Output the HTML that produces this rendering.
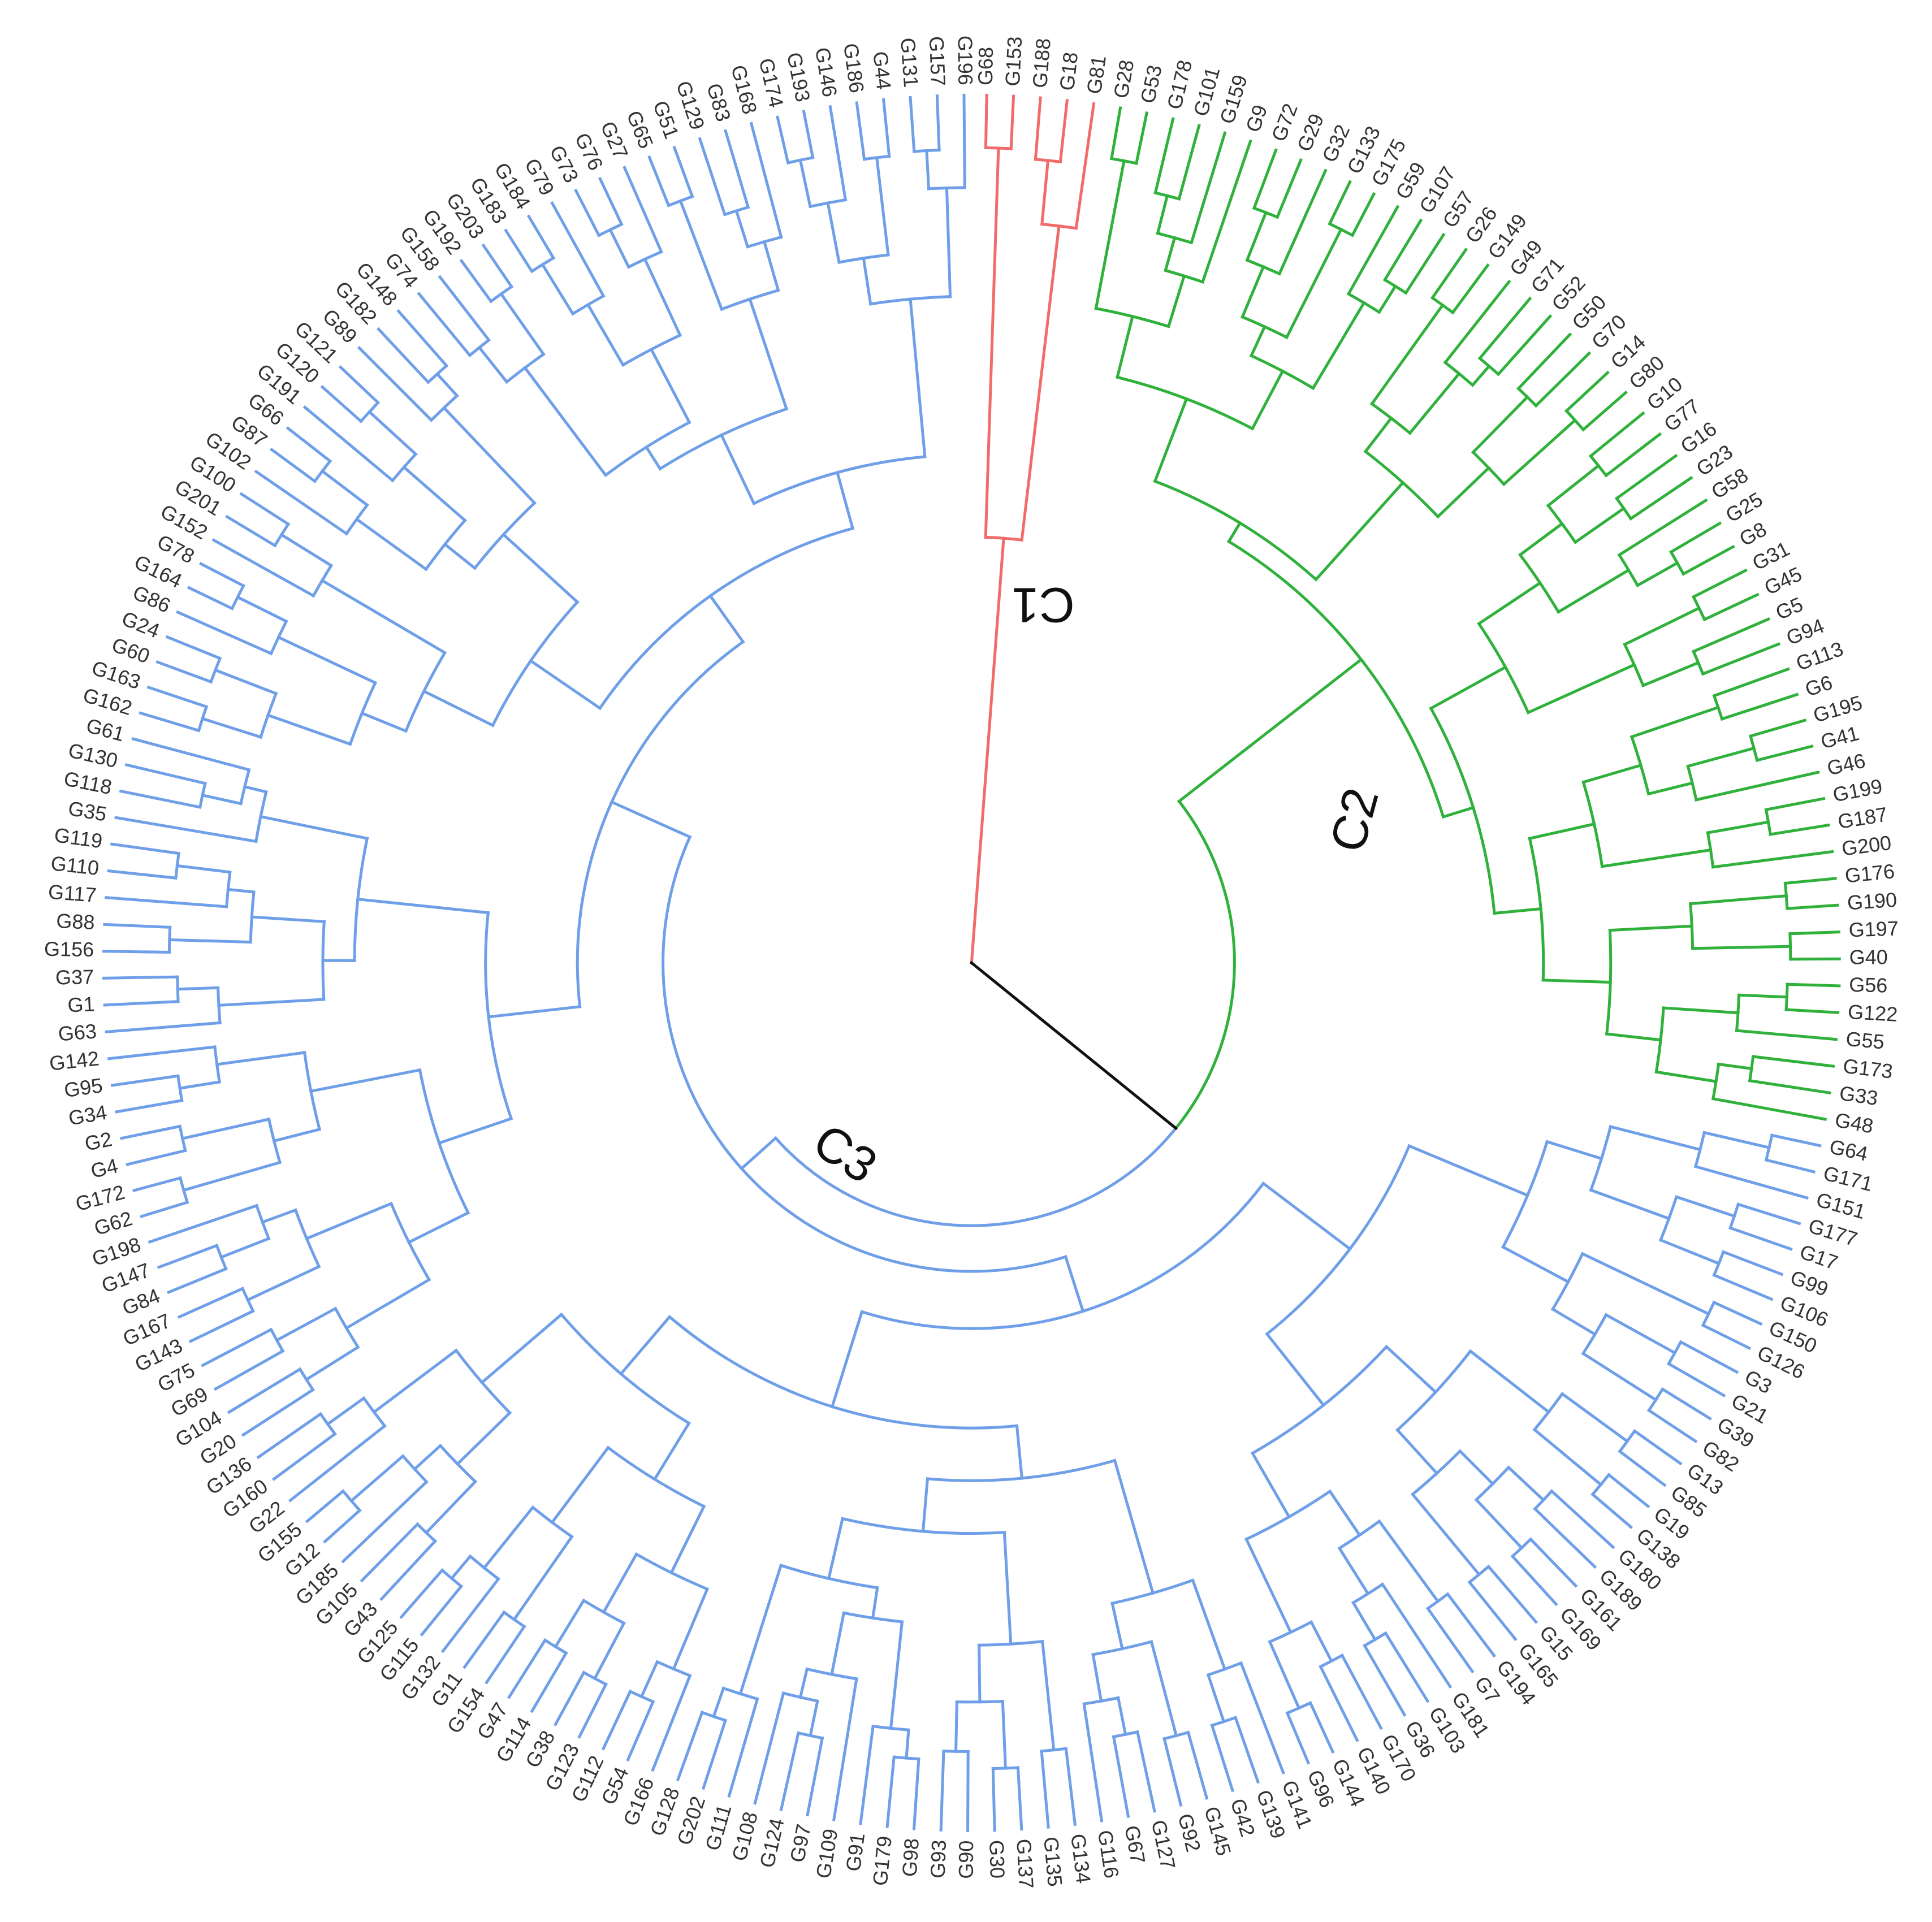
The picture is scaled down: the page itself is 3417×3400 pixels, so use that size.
<!DOCTYPE html>
<html><head><meta charset="utf-8">
<style>
html,body{margin:0;padding:0;background:#fff;}
svg{display:block;}
text{font-family:"Liberation Sans",sans-serif;}
</style></head>
<body>
<svg id="s" width="3417" height="3400" viewBox="0 0 1565 1557" xmlns="http://www.w3.org/2000/svg">
<rect width="1565" height="1557" fill="#fff"/>
<g id="tree" fill="none" stroke-width="2.3" stroke-linecap="square"></g>
<g id="labels" font-size="16.5" fill="#333"></g>
<text x="845" y="487" font-size="40" fill="#111" text-anchor="middle" dominant-baseline="middle" transform="rotate(180 845 487)">C1</text>
<text x="1100" y="665" font-size="40" fill="#111" text-anchor="middle" dominant-baseline="middle" transform="rotate(-75 1100 665)">C2</text>
<text x="683" y="937" font-size="40" fill="#111" text-anchor="middle" dominant-baseline="middle" transform="rotate(33 683 937)">C3</text>
</svg>
<script>
const names=["G68","G153","G188","G18","G81",
"G28","G53","G178","G101","G159","G9","G72","G29","G32","G133","G175","G59","G107","G57","G26","G149","G49","G71","G52","G50","G70","G14","G80","G10","G77","G16","G23","G58","G25","G8","G31","G45","G5","G94","G113","G6","G195","G41","G46","G199","G187","G200","G176","G190","G197","G40","G56","G122","G55","G173","G33","G48",
"G64","G171","G151","G177","G17","G99","G106","G150","G126","G3","G21","G39","G82","G13","G85","G19","G138","G180","G189","G161","G169","G15","G165","G194","G7","G181","G103","G36","G170","G140","G144","G96","G141","G139","G42","G145","G92","G127","G67","G116","G134","G135","G137","G30","G90","G93","G98","G179","G91","G109","G97","G124","G108","G111","G202","G128","G166","G54","G112","G123","G38","G114","G47","G154","G11","G132","G115","G125","G43","G105","G185","G12","G155","G22","G160","G136","G20","G104","G69","G75","G143","G167","G84","G147","G198","G62","G172","G4","G2","G34","G95","G142","G63","G1","G37","G156","G88","G117","G110","G119","G35","G118","G130","G61","G162","G163","G60","G24","G86","G164","G78","G152","G201","G100","G102","G87","G66","G191","G120","G121","G89","G182","G148","G74","G158","G192","G203","G183","G184","G79","G73","G76","G27","G65","G51","G129","G83","G168","G174","G193","G146","G186","G44","G131","G157","G196"];
const N=names.length, step=358.5/(N-1);
const cx=787, cy=780, RL=703;
const ang=i=>1+i*step;
let seed=12345;
const rnd=()=>{seed=(seed*16807)%2147483647;return seed/2147483647;};
function f(n){return RL-460*Math.pow(Math.log(n)/Math.log(146),1.1);}
function P(r,a){const t=a*Math.PI/180;return [cx+r*Math.sin(t), cy-r*Math.cos(t)];}
let out=[];
function line(r1,r2,a,c){const p=P(r1,a),q=P(r2,a);out.push(`<line x1="${p[0].toFixed(1)}" y1="${p[1].toFixed(1)}" x2="${q[0].toFixed(1)}" y2="${q[1].toFixed(1)}" stroke="${c}"/>`);}
function arc(r,a1,a2,c){if(a2<a1){const t=a1;a1=a2;a2=t;}const p=P(r,a1),q=P(r,a2);const lg=(a2-a1)>180?1:0;out.push(`<path d="M${p[0].toFixed(1)} ${p[1].toFixed(1)} A${r} ${r} 0 ${lg} 1 ${q[0].toFixed(1)} ${q[1].toFixed(1)}" stroke="${c}"/>`);}
function build(lo,hi,r,c){
  if(lo===hi) return ang(lo);
  const n=hi-lo+1;
  let k=lo+Math.max(0,Math.min(n-2,Math.floor((n-1)*(0.3+0.4*rnd()))));
  const ch=[[lo,k],[k+1,hi]], as=[];
  for(const [a,b] of ch){
    const m=b-a+1;
    let rc = m===1 ? RL : Math.min(RL-20, Math.max(f(m)+(rnd()-0.5)*30, r+12+rnd()*15));
    const aa=build(a,b,rc,c);
    line(r,rc,aa,c);
    as.push(aa);
  }
  arc(r,as[0],as[1],c);
  return (as[0]+as[1])/2;
}
const RED="#f26b6b", GRN="#2fb13b", BLU="#6f9fe8";
const aR=build(0,4,345,RED); line(0,345,aR,RED);
const aG=build(5,56,400,GRN);
const aB=build(57,N-1,250,BLU);
const aC=129;
arc(213,aG,aC,GRN); arc(213,aC,aB,BLU);
line(213,400,aG,GRN); line(213,250,aB,BLU);
line(0,213,aC,"#111");
document.getElementById("tree").innerHTML=out.join("");
let lab=[];
for(let i=0;i<N;i++){
  const a=ang(i), p=P(RL+8,a);
  let tr, anc;
  if(a<180){tr=`rotate(${(a-90).toFixed(2)} ${p[0].toFixed(1)} ${p[1].toFixed(1)})`;anc="start";}
  else{tr=`rotate(${(a+90).toFixed(2)} ${p[0].toFixed(1)} ${p[1].toFixed(1)})`;anc="end";}
  lab.push(`<text x="${p[0].toFixed(1)}" y="${p[1].toFixed(1)}" text-anchor="${anc}" dominant-baseline="middle" transform="${tr}">${names[i]}</text>`);
}
document.getElementById("labels").innerHTML=lab.join("");
</script>
</body></html>
